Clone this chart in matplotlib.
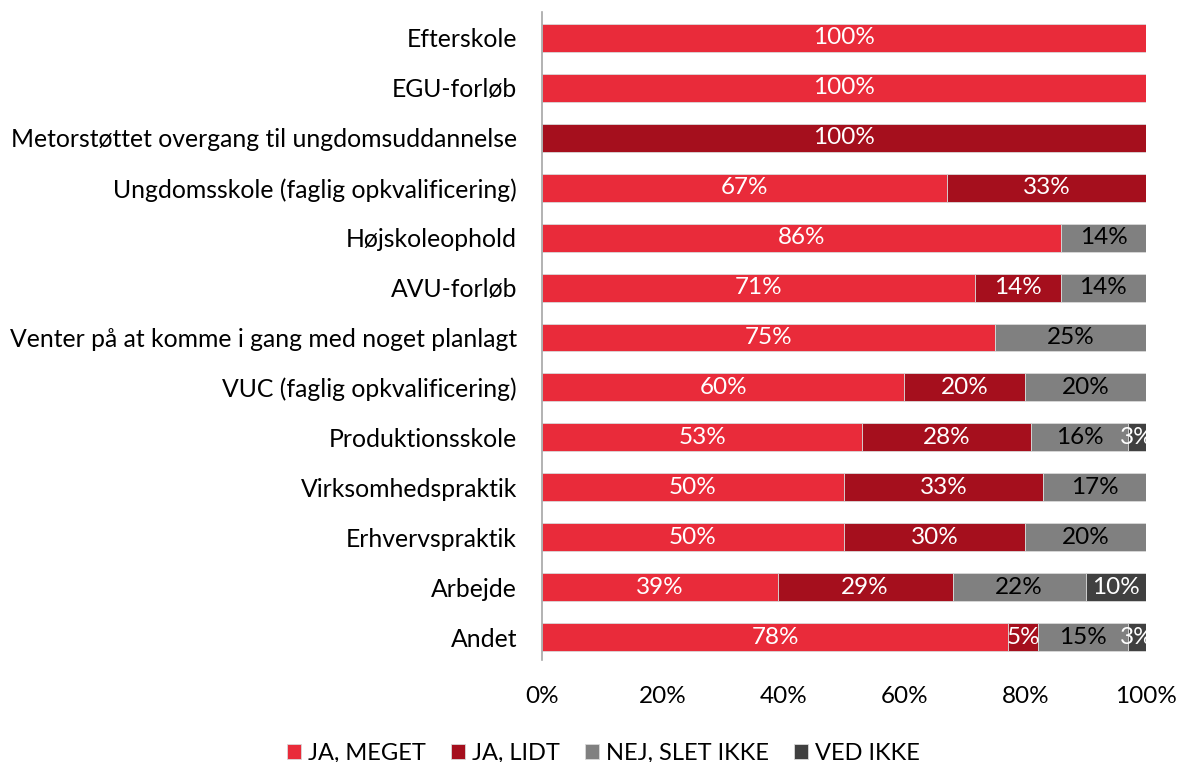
import matplotlib
matplotlib.use("Agg")
import matplotlib.pyplot as plt
import numpy as np

categories = ["Efterskole", "EGU-forløb", "Metorstøttet overgang til ungdomsuddannelse",
              "Ungdomsskole (faglig opkvalificering)", "Højskoleophold", "AVU-forløb",
              "Venter på at komme i gang med noget planlagt", "VUC (faglig opkvalificering)",
              "Produktionsskole", "Virksomhedspraktik", "Erhvervspraktik", "Arbejde", "Andet"]
ja_meget = [100, 100, 0, 67, 86, 71, 75, 60, 53, 50, 50, 39, 78]
ja_lidt = [0, 0, 100, 33, 0, 14, 0, 20, 28, 33, 30, 29, 5]
nej = [0, 0, 0, 0, 14, 14, 25, 20, 16, 17, 20, 22, 15]
ved_ikke = [0, 0, 0, 0, 0, 0, 0, 0, 3, 0, 0, 10, 3]
series_names = ["JA, MEGET", "JA, LIDT", "NEJ, SLET IKKE", "VED IKKE"]
xticks = [0, 20, 40, 60, 80, 100]

colors = ["#E92B3A", "#A50F1D", "#808080", "#404040"]
text_colors = ["white", "white", "black", "white"]

plt.rcParams['font.family'] = ['Lato', 'DejaVu Sans']

fig = plt.figure(figsize=(11.79, 7.62), dpi=100)
ax = fig.add_axes([542/1179, 1-660/762, (1146-542)/1179, (660-12)/762])

data = np.array([ja_meget, ja_lidt, nej, ved_ikke], dtype=float)
totals = data.sum(axis=0)
shares = data / totals * 100
y = np.arange(len(categories))
left = np.zeros(len(categories))
for i, name in enumerate(series_names):
    ax.barh(y, shares[i], left=left, height=0.56, color=colors[i], label=name,
            edgecolor="#d9d9d9", linewidth=0.6)
    for j in range(len(categories)):
        v = data[i, j]
        if v > 0:
            ax.text(left[j] + shares[i, j] / 2, y[j], f"{int(v)}%", ha="center", va="center",
                    color=text_colors[i], fontsize=17.5)
    left += shares[i]

ax.set_ylim(len(categories) - 1 + 0.46, -0.52)
ax.set_xlim(0, 100)
ax.set_yticks(y)
ax.set_yticklabels(categories, fontsize=17.8)
ax.set_xticks(xticks)
ax.set_xticklabels([f"{t}%" for t in xticks], fontsize=17.5)
ax.tick_params(axis="both", length=0)
ax.tick_params(axis="x", pad=19)
ax.tick_params(axis="y", pad=18)
for s in ["top", "right", "bottom"]:
    ax.spines[s].set_visible(False)
ax.spines["left"].set_color("#a6a6a6")
ax.spines["left"].set_linewidth(1.2)

fig.legend(loc="lower center", bbox_to_anchor=(0.512, -0.03), ncol=4, frameon=False,
           fontsize=17, handlelength=0.6, handleheight=0.6, handletextpad=0.3, columnspacing=1.05)

fig.savefig("out.png", dpi=100)
